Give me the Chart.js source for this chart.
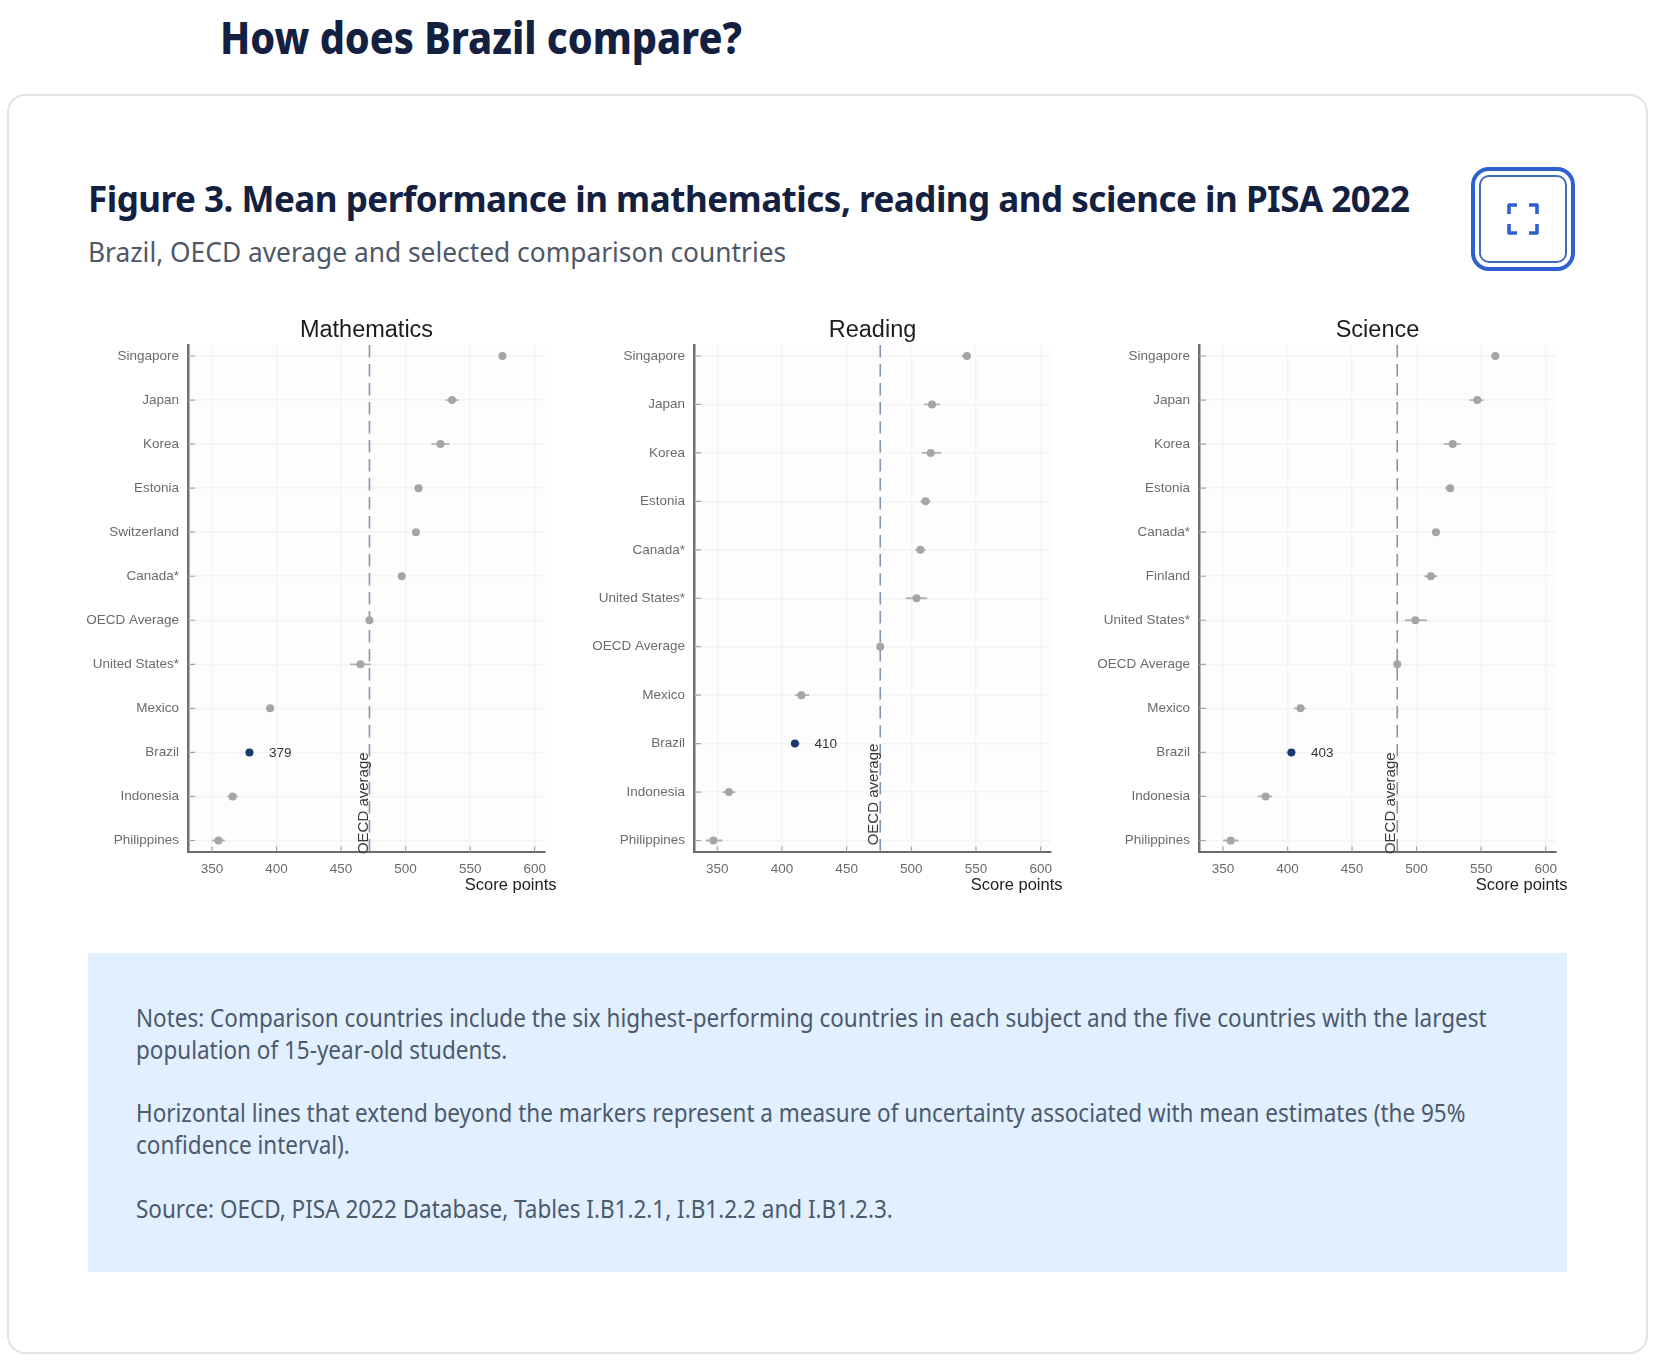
<!DOCTYPE html>
<html>
<head>
<meta charset="utf-8">
<title>How does Brazil compare?</title>
<script src="https://cdn.jsdelivr.net/npm/chart.js@4"></script>
<style>
  html, body { margin: 0; padding: 0; background: #fff; }
  body { position: relative; width: 1656px; height: 1362px; overflow: hidden; font-family: "Noto Sans", sans-serif; }
  .abs { position: absolute; white-space: nowrap; }
  #heading { left: 220px; top: 8px; font-size: 44px; line-height: 58px; font-weight: 800; color: #14203f; transform: scaleX(0.9); transform-origin: left center; }
  #card { left: 7px; top: 94px; width: 1637px; height: 1256px; border: 2px solid #e2e3e5; border-radius: 18px; }
  #figtitle { left: 88px; top: 175px; font-size: 35px; line-height: 48px; font-weight: 700; color: #14203f; letter-spacing: -0.5px; }
  #figsub { left: 88px; top: 231px; font-size: 28px; line-height: 40px; color: #4f5868; transform: scaleX(0.94); transform-origin: left center; }
  #btn { left: 1471px; top: 167px; width: 96px; height: 96px; border: 4px solid #2f60cf; border-radius: 18px; }
  #btn div { position: absolute; left: 4px; top: 4px; width: 84px; height: 84px; border: 2px solid #3f6cb8; border-radius: 10px; }
  #btn svg { position: absolute; left: 32px; top: 32px; }
  #notes { left: 88px; top: 953px; width: 1479px; height: 319px; background: #e1effe; }
  #notes p { position: absolute; left: 48px; margin: 0; font-size: 25px; line-height: 32px; color: #4c5a6c; white-space: nowrap; transform: scaleX(0.899); transform-origin: left center; }
  .panel { position: absolute; top: 310px; width: 492px; height: 590px; }
</style>
</head>
<body>
<div class="abs" id="heading">How does Brazil compare?</div>
<div class="abs" id="card"></div>
<div class="abs" id="figtitle">Figure 3. Mean performance in mathematics, reading and science in PISA 2022</div>
<div class="abs" id="figsub">Brazil, OECD average and selected comparison countries</div>
<div class="abs" id="btn"><div></div>
  <svg width="32" height="32" viewBox="0 0 32 32" fill="none" stroke="#2f60cf" stroke-width="3.6" stroke-linejoin="round">
    <path d="M2 11V2H10M22 2H30V11M30 21V30H22M10 30H2V21"/>
  </svg>
</div>
<div class="abs" id="notes">
  <p style="top:48px">Notes: Comparison countries include the six highest-performing countries in each subject and the five countries with the largest<br>population of 15-year-old students.</p>
  <p style="top:143px">Horizontal lines that extend beyond the markers represent a measure of uncertainty associated with mean estimates (the 95%<br>confidence interval).</p>
  <p style="top:239px">Source: OECD, PISA 2022 Database, Tables I.B1.2.1, I.B1.2.2 and I.B1.2.3.</p>
</div>
<div class="panel" style="left:78px"><canvas id="math"></canvas></div>
<div class="panel" style="left:584px"><canvas id="reading"></canvas></div>
<div class="panel" style="left:1089px"><canvas id="science"></canvas></div>

<script>
// score axis
const scoreTicks = [350, 400, 450, 500, 550, 600];

// mathematics
const mathCountries = ["Singapore", "Japan", "Korea", "Estonia", "Switzerland", "Canada*", "OECD Average", "United States*", "Mexico", "Brazil", "Indonesia", "Philippines"];
const mathScores = [575, 536, 527, 510, 508, 497, 472, 465, 395, 379, 366, 355];
const mathLow = [573, 531, 520, 507, 505, 495, 471.5, 457, 392, 377, 362, 350];
const mathHigh = [577, 541, 534, 513, 511, 499, 472.5, 473, 398, 381, 370, 360];

// reading
const readingCountries = ["Singapore", "Japan", "Korea", "Estonia", "Canada*", "United States*", "OECD Average", "Mexico", "Brazil", "Indonesia", "Philippines"];
const readingScores = [543, 516, 515, 511, 507, 504, 476, 415, 410, 359, 347];
const readingLow = [539, 510, 508, 507, 503, 496, 475.5, 410, 407, 354, 341];
const readingHigh = [546, 522, 523, 515, 511, 512, 476.5, 421, 414, 364, 354];

// science
const scienceCountries = ["Singapore", "Japan", "Korea", "Estonia", "Canada*", "Finland", "United States*", "OECD Average", "Mexico", "Brazil", "Indonesia", "Philippines"];
const scienceScores = [561, 547, 528, 526, 515, 511, 499, 485, 410, 403, 383, 356];
const scienceLow = [558, 541, 521, 522, 512, 506, 491, 484.5, 405, 399, 377, 350];
const scienceHigh = [564, 552, 534, 529, 518, 516, 508, 485.5, 414, 406, 388, 362];

const LABEL_FONT = '"Liberation Sans", Arial, sans-serif';

// titles, reference texts and the small inward ticks
const panelText = {
  id: "panelText",
  beforeDatasetsDraw(chart, args, opts) {
    const { ctx, chartArea: a, scales: { x, y } } = chart;
    ctx.save();
    ctx.strokeStyle = "#a3a5a8";
    ctx.lineWidth = 1.2;
    ctx.beginPath();
    opts.countries.forEach((c, i) => {
      const py = y.getPixelForValue(i);
      ctx.moveTo(a.left, py);
      ctx.lineTo(a.left + 7, py);
    });
    scoreTicks.forEach(t => {
      const px = x.getPixelForValue(t);
      ctx.moveTo(px, a.bottom);
      ctx.lineTo(px, a.bottom - 5);
    });
    ctx.stroke();
    ctx.restore();
  },
  beforeDraw(chart) {
    const { ctx, chartArea: a } = chart;
    ctx.save();
    ctx.fillStyle = "#fdfdfd";
    ctx.fillRect(a.left, a.top, a.width, a.height);
    ctx.restore();
  },
  afterDraw(chart, args, opts) {
    const { ctx, chartArea: a, scales: { x, y } } = chart;
    const brazil = opts.countries.indexOf("Brazil");
    const avg = opts.scores[opts.countries.indexOf("OECD Average")];
    ctx.save();
    ctx.textBaseline = "middle";

    ctx.fillStyle = "#1c1c1c";
    ctx.textAlign = "center";
    ctx.font = "23.5px " + LABEL_FONT;
    ctx.fillText(opts.title, (a.left + a.right) / 2, 21);

    ctx.fillStyle = "#222";
    ctx.textAlign = "right";
    ctx.font = "16.5px " + LABEL_FONT;
    ctx.fillText("Score points", a.right + 11.5, 575);

    ctx.fillStyle = "#333";
    ctx.textAlign = "left";
    ctx.font = "13.5px " + LABEL_FONT;
    ctx.fillText(String(opts.scores[brazil]), x.getPixelForValue(opts.scores[brazil]) + 19.5, y.getPixelForValue(brazil) + 1);

    ctx.fillStyle = "#3a3a3a";
    ctx.font = "15px " + LABEL_FONT;
    ctx.translate(x.getPixelForValue(avg) - 6, y.getPixelForValue(brazil));
    ctx.rotate(-Math.PI / 2);
    ctx.textAlign = "right";
    ctx.fillText("OECD average", 0, 0);
    ctx.restore();
  }
};

function drawPanel(id, title, countries, scores, low, high, xMin) {
  const last = countries.length - 1;
  const pad = last * 0.0227;
  const avg = scores[countries.indexOf("OECD Average")];

  // confidence intervals, one line with a gap after each country
  const intervals = [];
  countries.forEach((c, i) => {
    intervals.push({ x: low[i], y: i }, { x: high[i], y: i }, { x: NaN, y: NaN });
  });

  new Chart(document.getElementById(id), {
    type: "scatter",
    data: {
      datasets: [
        {
          label: "Mean score",
          data: scores.map((s, i) => ({ x: s, y: i })),
          pointRadius: 4,
          pointBackgroundColor: countries.map(c => c === "Brazil" ? "#183a6e" : "#a5a5a5"),
          pointBorderWidth: 0,
          order: 1
        },
        {
          label: "95% confidence interval",
          data: intervals,
          showLine: true,
          borderColor: "#b2b2b2",
          borderWidth: 1.8,
          pointRadius: 0,
          order: 2
        },
        {
          label: "OECD average",
          data: [{ x: avg, y: -pad }, { x: avg, y: last + pad }],
          showLine: true,
          borderColor: "#8496ab",
          borderWidth: 1.6,
          borderDash: [12.5, 6.5],
          pointRadius: 0,
          order: 3
        }
      ]
    },
    options: {
      responsive: true,
      maintainAspectRatio: false,
      animation: false,
      layout: { padding: { top: 35, right: 25 } },
      plugins: {
        legend: { display: false },
        tooltip: { enabled: false },
        panelText: { title, countries, scores }
      },
      scales: {
        x: {
          type: "linear",
          min: xMin,
          max: 608,
          afterBuildTicks: s => { s.ticks = scoreTicks.map(v => ({ value: v })); },
          afterFit: s => { s.height = 48.5; },
          border: { color: "#6a6a6a", width: 2 },
          grid: { color: "#f3f4f5", lineWidth: 1.5, drawTicks: false },
          ticks: { color: "#6b6b6b", padding: 10, maxRotation: 0, font: { family: LABEL_FONT, size: 13.5 } }
        },
        y: {
          type: "linear",
          reverse: true,
          min: -pad,
          max: last + pad,
          afterBuildTicks: s => { s.ticks = countries.map((c, i) => ({ value: i })); },
          afterFit: s => { s.width = 110; },
          border: { color: "#6f6f6f", width: 2.5 },
          grid: { color: "#f3f4f5", lineWidth: 1.5, drawTicks: false },
          ticks: {
            color: "#6b6b6b",
            padding: 9,
            autoSkip: false,
            font: { family: LABEL_FONT, size: 13.5 },
            callback: v => countries[v]
          }
        }
      }
    },
    plugins: [panelText]
  });
}

drawPanel("math", "Mathematics", mathCountries, mathScores, mathLow, mathHigh, 331.4);
drawPanel("reading", "Reading", readingCountries, readingScores, readingLow, readingHigh, 332);
drawPanel("science", "Science", scienceCountries, scienceScores, scienceLow, scienceHigh, 331.4);
</script>
</body>
</html>
